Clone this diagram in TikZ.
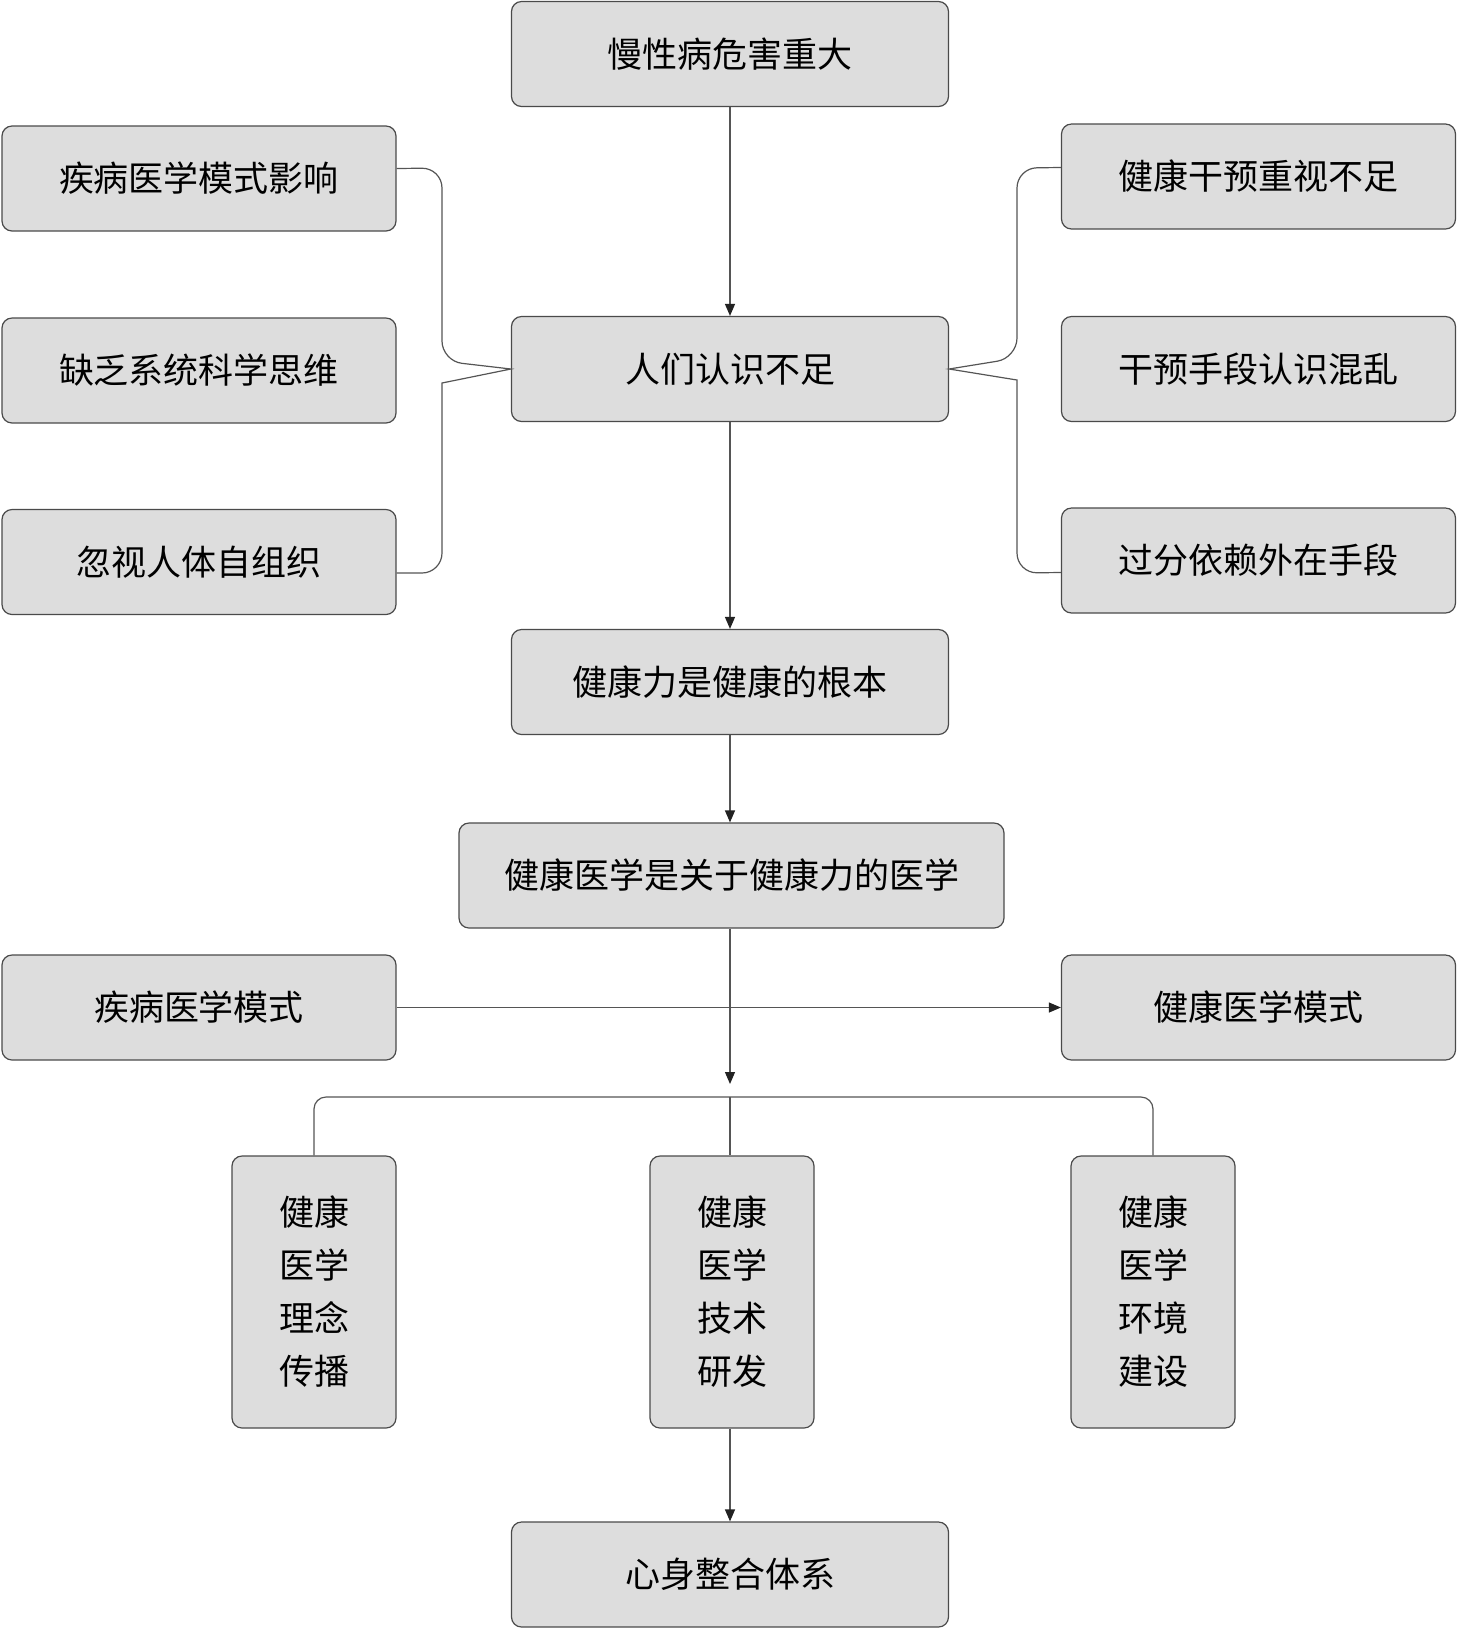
\documentclass[tikz,border=0pt]{standalone}
\usepackage{fontspec}
\setmainfont{Noto Sans CJK SC}
\usepackage{tikz}
\usetikzlibrary{arrows.meta, calc}
\definecolor{my_fill}{HTML}{DDDDDD}
\definecolor{my_edge}{HTML}{4A4A4A}
\definecolor{my_link}{HTML}{555555}
\definecolor{my_tip}{HTML}{222222}

\begin{document}
\begin{tikzpicture}[
    x=0.5pt, y=-0.5pt,  % one unit = one pixel of the reference
    box/.style={draw=my_edge, fill=my_fill, rounded corners=5pt, line width=0.6pt,
        minimum width=218.5pt, minimum height=52.5pt, inner sep=0pt,
        font=\fontsize{17.5}{21}\selectfont},
    sidebox/.style={box, minimum width=197pt},
    vbox/.style={box, minimum width=82pt, minimum height=136pt,
        align=center, font=\fontsize{17.5}{26.5}\selectfont},
    link/.style={my_link, line width=0.6pt},
    arr/.style={link, -{Triangle[length=6pt,width=5pt,color=my_tip]}},
]
\useasboundingbox (0,0) rectangle (1458,1630);

% ── Main column ──────────────────────────────────────────────────────────────
\node[box] (harm)  at (730,54)   {慢性病危害重大};
\node[box] (aware) at (730,369)  {人们认识不足};
\node[box] (root)  at (730,682)  {健康力是健康的根本};
\node[box, minimum width=272.5pt] (med) at (731.5,875.5) {健康医学是关于健康力的医学};
\node[box] (whole) at (730,1574.5) {心身整合体系};

% ── Causes on the left ───────────────────────────────────────────────────────
\node[sidebox] (lone)   at (199,178.5) {疾病医学模式影响};
\node[sidebox] (ltwo)   at (199,370.5) {缺乏系统科学思维};
\node[sidebox] (lthree) at (199,562)   {忽视人体自组织};

% ── Causes on the right ──────────────────────────────────────────────────────
\node[sidebox] (rone)   at (1258.5,176.5) {健康干预重视不足};
\node[sidebox] (rtwo)   at (1258.5,369)   {干预手段认识混乱};
\node[sidebox] (rthree) at (1258.5,560.5) {过分依赖外在手段};

% ── Model shift ──────────────────────────────────────────────────────────────
\node[sidebox] (olds) at (199,1007.5)    {疾病医学模式};
\node[sidebox] (news) at (1258.5,1007.5) {健康医学模式};

% ── Three tasks ──────────────────────────────────────────────────────────────
\node[vbox] (tone)   at (314,1292)  {健康\\医学\\理念\\传播};
\node[vbox] (ttwo)   at (732,1292)  {健康\\医学\\技术\\研发};
\node[vbox] (tthree) at (1153,1292) {健康\\医学\\环境\\建设};

% ── Arrows down the main column ──────────────────────────────────────────────
\draw[arr] (harm) -- (aware);
\draw[arr] (aware) -- (root);
\draw[arr] (root.south) -- (root.south |- med.north);
\coordinate (drop) at (730,1084);
\draw[arr] (med.south -| drop) -- (drop);
\draw[arr] (olds) -- (news);
\draw[arr] (ttwo.south -| whole) -- (whole);

% ── Bar over the three tasks ─────────────────────────────────────────────────
\coordinate (hub) at (730,1097);
\draw[link, rounded corners=6pt] (tone.north) |- (hub) -| (tthree.north);
\draw[link] (hub) -- (hub |- ttwo.north);

% ── Left brace ───────────────────────────────────────────────────────────────
\draw[link, rounded corners=10pt]
    ([yshift=5pt]lone.east) -- (442,168) -- (442,361) [sharp corners] -- (aware.west)
    -- (442,383) [rounded corners=10pt] -- (442,573) -- ([yshift=-5.5pt]lthree.east);

% ── Right brace ──────────────────────────────────────────────────────────────
\draw[link, rounded corners=10pt]
    ([yshift=4.5pt]rone.west) -- (1017,168) -- (1017,358) [sharp corners] -- (aware.east)
    -- (1017,380) [rounded corners=10pt] -- (1017,573) -- ([yshift=-6pt]rthree.west);

\end{tikzpicture}
\end{document}
